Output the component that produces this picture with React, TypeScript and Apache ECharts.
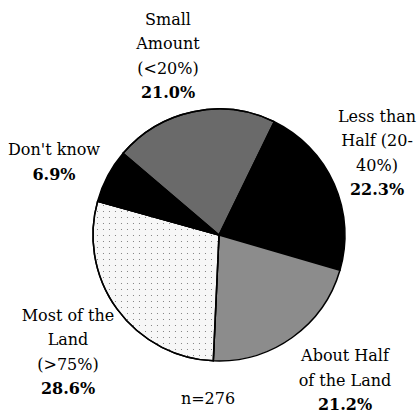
import React, { useEffect, useRef } from "react";
import * as echarts from "echarts";

const categories = [
  "Less than\nHalf (20-\n40%)",
  "About Half\nof the Land",
  "Most of the\nLand\n(>75%)",
  "Don't know",
  "Small\nAmount\n(<20%)",
];
const values = [22.3, 21.2, 28.6, 6.9, 21.0];
const sampleSize = "n=276";

const colors = ["#000000", "#8c8c8c", "#f7f7f7", "#000000", "#6a6a6a"];
const decals: any[] = [
  null,
  null,
  { symbol: "circle", symbolSize: 0.35, color: "#777777", dashArrayX: [3, 3], dashArrayY: [3, 3] },
  null,
  { symbol: "circle", symbolSize: 0.5, color: "#8a8a8a", dashArrayX: [1.5, 1.5], dashArrayY: [1.5, 1.5] },
];
const labelPos: [number, number][] = [
  [377, 153],
  [345, 380],
  [68, 352],
  [54, 162],
  [168, 56],
];

export default function App() {
  const ref = useRef<HTMLDivElement>(null);
  useEffect(() => {
    if (!ref.current) return;
    const chart = echarts.init(ref.current, undefined, { renderer: "svg" });
    const font = "DejaVu Serif";
    chart.setOption({
      animation: false,
      backgroundColor: "#ffffff",
      textStyle: { fontFamily: font },
      title: {
        text: sampleSize,
        left: 203,
        top: 393,
        textAlign: "center",
        textVerticalAlign: "middle",
        textStyle: { fontFamily: font, fontSize: 16, fontWeight: "normal", color: "#000" },
      },
      series: [
        {
          type: "pie",
          center: [219, 235],
          radius: 126,
          startAngle: 64,
          clockwise: true,
          avoidLabelOverlap: false,
          itemStyle: { borderColor: "#000", borderWidth: 1.5 },
          label: {
            show: true,
            position: "outside",
            fontFamily: font,
            fontSize: 16,
            formatter: (p: any) =>
              p.name
                .split("\n")
                .map((l: string) => `{n|${l}}`)
                .join("\n") + `\n{b|${p.value.toFixed(1)}%}`,
            rich: {
              n: { fontFamily: font, fontSize: 16, lineHeight: 24.5, color: "#000", align: "center" },
              b: { fontFamily: font, fontSize: 16, lineHeight: 24.5, fontWeight: "bold", color: "#000", align: "center" },
            },
          },
          labelLine: { show: false },
          labelLayout: (params: any) => ({
            x: labelPos[params.dataIndex][0],
            y: labelPos[params.dataIndex][1],
            align: "center",
            verticalAlign: "middle",
          }),
          emphasis: { disabled: true },
          data: categories.map((name, i) => ({
            name,
            value: values[i],
            itemStyle: decals[i]
              ? { color: colors[i], decal: decals[i] }
              : { color: colors[i] },
          })),
        },
      ],
    });
    return () => chart.dispose();
  }, []);
  return (
    <div
      ref={ref}
      style={{ position: "fixed", left: 0, top: 0, width: 417, height: 413 }}
    />
  );
}
